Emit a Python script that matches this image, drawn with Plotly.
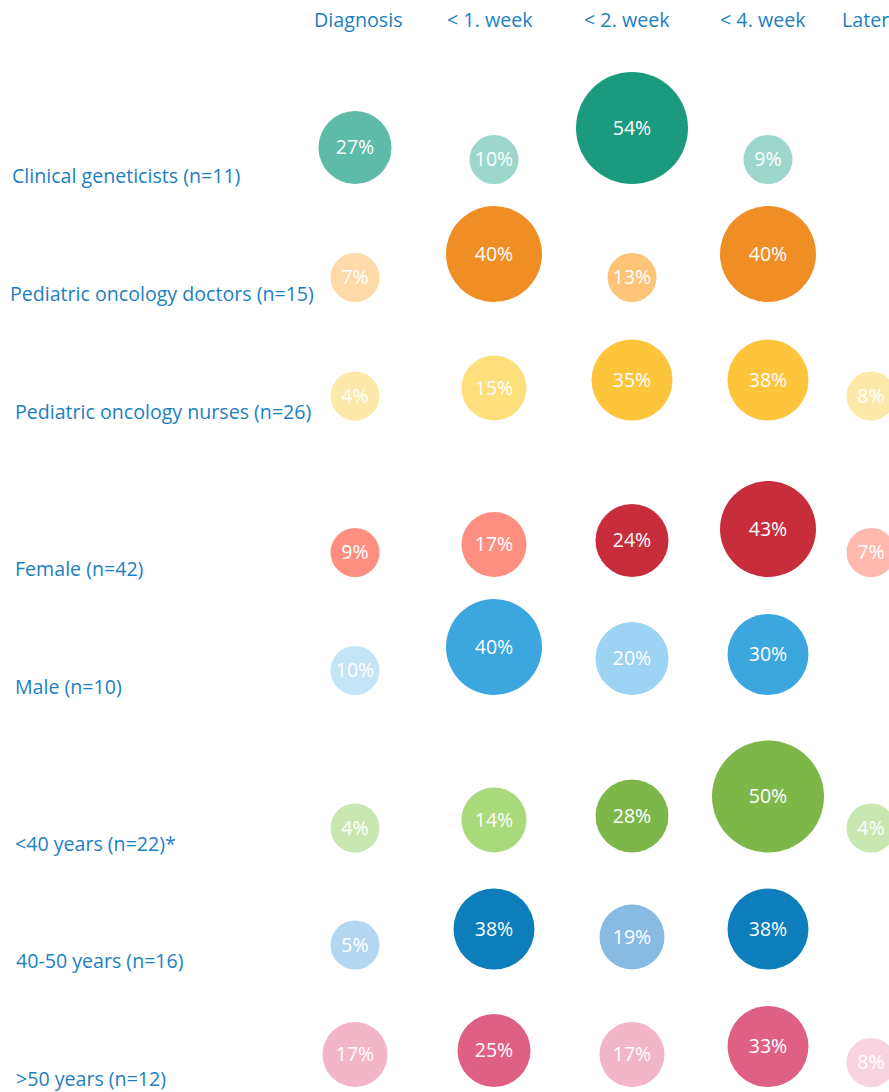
import plotly.graph_objects as go

# ---------------- data ----------------
columns = ["Diagnosis", "< 1. week", "< 2. week", "< 4. week", "Later"]
row_labels = [
    "Clinical geneticists (n=11)",
    "Pediatric oncology doctors (n=15)",
    "Pediatric oncology nurses (n=26)",
    "Female (n=42)",
    "Male (n=10)",
    "<40 years (n=22)*",
    "40-50 years (n=16)",
    ">50 years (n=12)",
]
clinical_geneticists = [27, 10, 54, 9, None]
oncology_doctors = [7, 40, 13, 40, None]
oncology_nurses = [4, 15, 35, 38, 8]
female = [9, 17, 24, 43, 7]
male = [10, 40, 20, 30, None]
under_40 = [4, 14, 28, 50, 4]
age_40_50 = [5, 38, 19, 38, None]
over_50 = [17, 25, 17, 33, 8]
row_values = [clinical_geneticists, oncology_doctors, oncology_nurses,
              female, male, under_40, age_40_50, over_50]

# ---------------- styles / layout ----------------
W, H = 889, 1092
FONT = "Open Sans"
BLUE = "#1c7fc2"
col_x = [355, 494, 632, 768, 871]          # column centre (px)
header_x = [358, 490, 627, 763, 865]
row_base = [184, 302, 420.5, 577, 695, 852.5, 969.5, 1087]  # bubble bottom line (px)
label_x = [10, 8, 12.5, 12.5, 12.5, 12.5, 14, 14]

palettes = [  # dark, medium, light
    ("#1b9a7d", "#5dbba7", "#9dd6cb"),
    ("#f08e26", "#fdc477", "#fddaa8"),
    ("#fcc53c", "#fedf7b", "#fde9a9"),
    ("#c82d3c", "#fe8f80", "#feb8ae"),
    ("#3ca7de", "#9dd3f3", "#c4e5f7"),
    ("#7db749", "#a8da7b", "#c9e8b1"),
    ("#0e7dbb", "#88bbe4", "#b4d7f1"),
    ("#de6085", "#f3b5c8", "#f9d3df"),
]
shade = [  # 0 dark, 1 medium, 2 light
    [1, 2, 0, 2, None],
    [2, 0, 1, 0, None],
    [2, 1, 0, 0, 2],
    [1, 1, 0, 0, 2],
    [2, 0, 1, 0, None],
    [2, 1, 0, 0, 2],
    [2, 0, 1, 0, None],
    [1, 0, 1, 0, 2],
]


def diameter(v):
    if v < 14:
        return 49
    if v < 20:
        return 65
    if v < 30:
        return 73
    if v < 40:
        return 81
    if v < 50:
        return 96
    return 112


fig = go.Figure()

for r, vals in enumerate(row_values):
    xs, ys, sizes, colors, texts = [], [], [], [], []
    for c, v in enumerate(vals):
        if v is None:
            continue
        d = diameter(v)
        xs.append(col_x[c])
        ys.append(row_base[r] - d / 2)
        sizes.append(d)
        colors.append(palettes[r][shade[r][c]])
        texts.append(f"{v}%")
    fig.add_trace(go.Scatter(
        x=xs, y=ys, mode="markers",
        marker=dict(size=sizes, sizemode="diameter", color=colors,
                    line=dict(width=0), opacity=1),
        hoverinfo="skip", showlegend=False,
    ))
    fig.add_trace(go.Scatter(
        x=xs, y=[y + 2 for y in ys], mode="text",
        text=texts, textposition="middle center",
        textfont=dict(family=FONT, size=19.5, color="white"),
        hoverinfo="skip", showlegend=False,
    ))

annotations = []
for c, name in enumerate(columns):
    annotations.append(dict(
        x=header_x[c], y=19, xref="x", yref="y",
        text=name, showarrow=False, xanchor="center", yanchor="middle",
        font=dict(family=FONT, size=19.7, color=BLUE),
    ))
for r, name in enumerate(row_labels):
    annotations.append(dict(
        x=label_x[r], y=row_base[r] - 9, xref="x", yref="y",
        text=name, showarrow=False, xanchor="left", yanchor="middle",
        font=dict(family=FONT, size=19.6, color=BLUE),
    ))

fig.update_layout(
    width=W, height=H,
    margin=dict(l=0, r=0, t=0, b=0),
    paper_bgcolor="white", plot_bgcolor="white",
    xaxis=dict(range=[0, W], visible=False, fixedrange=True),
    yaxis=dict(range=[H, 0], visible=False, fixedrange=True),
    annotations=annotations,
    showlegend=False,
)

fig.write_html("out.html", config={"displayModeBar": False})
